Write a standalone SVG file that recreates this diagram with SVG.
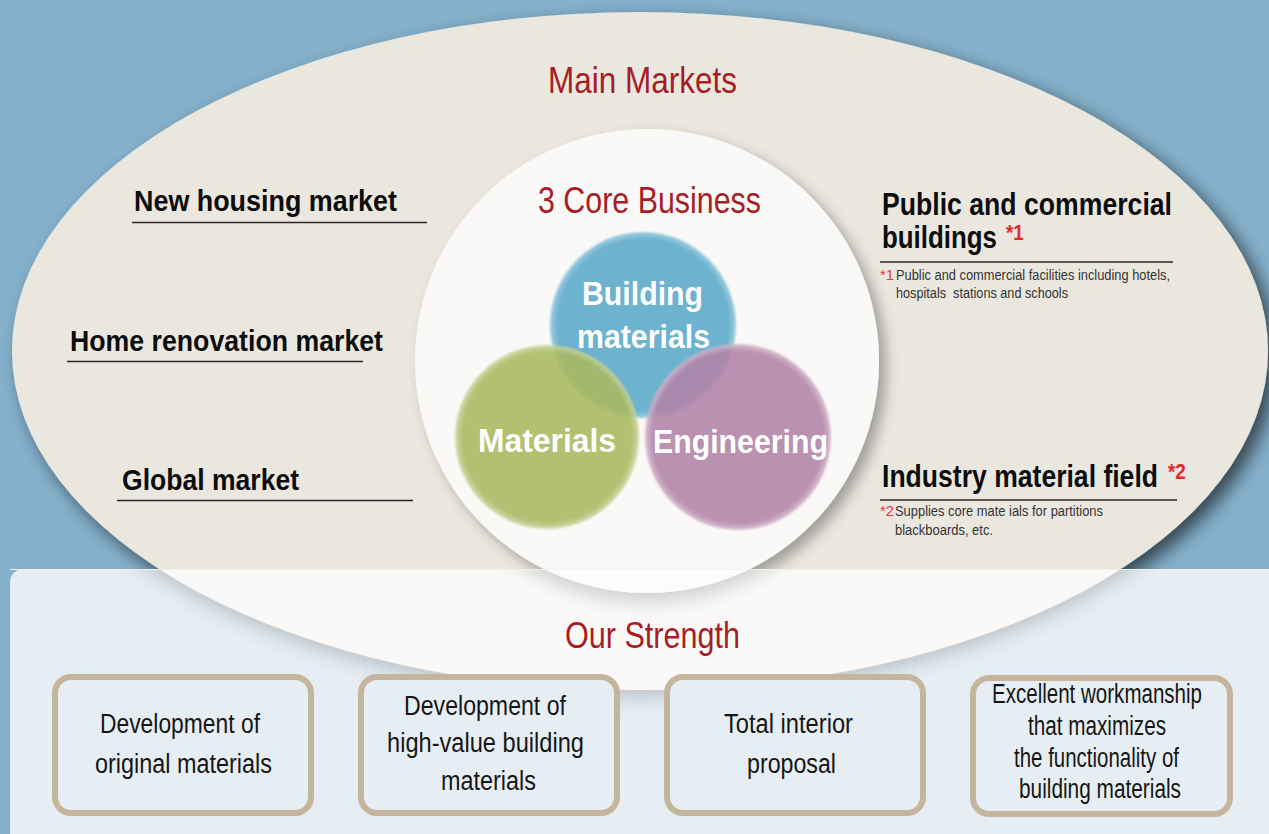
<svg xmlns="http://www.w3.org/2000/svg" width="1269" height="834" viewBox="0 0 1269 834">
  <defs>
    <style>
      .t { font-family: "Liberation Sans Narrow", "Liberation Sans", Arial, sans-serif; }
      .red { fill: #a81d25; font-size: 37px; }
      .lbl { fill: #0d0d0d; font-size: 30px; font-weight: bold; }
      .rl { fill: #0d0d0d; font-size: 31px; font-weight: bold; }
      .ast { fill: #e8262f; font-size: 22px; font-weight: bold; }
      .fn { fill: #333333; font-size: 15.5px; }
      .fnr { fill: #e8353d; font-size: 15.5px; }
      .ct { fill: #ffffff; font-size: 33px; font-weight: bold; }
      .bt { fill: #161616; font-size: 27px; }
      .ul { stroke: #2a2a2a; stroke-width: 1.6; }
      .box { fill: #e6eef4; stroke: #c4b59c; stroke-width: 6; }
    </style>
    <filter id="shE" x="-10%" y="-10%" width="125%" height="130%">
      <feGaussianBlur in="SourceAlpha" stdDeviation="9"/>
      <feOffset dx="8" dy="8" result="b"/>
      <feComponentTransfer><feFuncA type="linear" slope="0.6"/></feComponentTransfer>
      <feMerge><feMergeNode/><feMergeNode in="SourceGraphic"/></feMerge>
    </filter>
    <filter id="shC" x="-20%" y="-20%" width="145%" height="145%">
      <feGaussianBlur in="SourceAlpha" stdDeviation="7"/>
      <feOffset dx="7" dy="7" result="b"/>
      <feComponentTransfer><feFuncA type="linear" slope="0.32"/></feComponentTransfer>
      <feMerge><feMergeNode/><feMergeNode in="SourceGraphic"/></feMerge>
    </filter>
    <filter id="shP" x="-20%" y="-20%" width="140%" height="150%">
      <feGaussianBlur in="SourceAlpha" stdDeviation="10"/>
      <feOffset dx="0" dy="8" result="b"/>
      <feComponentTransfer><feFuncA type="linear" slope="0.18"/></feComponentTransfer>
      <feMerge><feMergeNode/><feMergeNode in="SourceGraphic"/></feMerge>
    </filter>
    <filter id="soft" x="-10%" y="-10%" width="120%" height="120%">
      <feGaussianBlur stdDeviation="1.2"/>
    </filter>
    <radialGradient id="gB" cx="0.5" cy="0.5" r="0.5">
      <stop offset="0" stop-color="#6db2cf"/>
      <stop offset="0.92" stop-color="#6db2cf"/>
      <stop offset="1" stop-color="#9fcde0"/>
    </radialGradient>
    <radialGradient id="gG" cx="0.5" cy="0.5" r="0.5">
      <stop offset="0" stop-color="#a9b960"/>
      <stop offset="0.92" stop-color="#a9b960"/>
      <stop offset="1" stop-color="#cdd6a0"/>
    </radialGradient>
    <radialGradient id="gP" cx="0.5" cy="0.5" r="0.5">
      <stop offset="0" stop-color="#b283a8"/>
      <stop offset="0.92" stop-color="#b283a8"/>
      <stop offset="1" stop-color="#d5b7cd"/>
    </radialGradient>
    <clipPath id="panelClip">
      <rect x="10" y="570" width="1300" height="300"/>
    </clipPath>
  </defs>

  <!-- background -->
  <rect x="0" y="0" width="1269" height="834" fill="#85b0cb"/>

  <!-- main markets ellipse -->
  <g id="main-markets">
    <ellipse cx="640" cy="351" rx="628" ry="339" fill="#eae7df" filter="url(#shE)"/>
    <text class="t red" x="548" y="93" textLength="189" lengthAdjust="spacingAndGlyphs">Main Markets</text>
  </g>

  <!-- core business circle -->
  <g id="core-business">
    <circle cx="647" cy="361" r="232" fill="#faf9f7" filter="url(#shC)"/>
    <text class="t red" x="538" y="213" textLength="223" lengthAdjust="spacingAndGlyphs">3 Core Business</text>
  </g>

  <!-- strength panel -->
  <g id="strength-panel">
    <rect x="10" y="569" width="1290" height="300" rx="13" fill="#e6eef4"/>
    <g clip-path="url(#panelClip)">
      <ellipse cx="640" cy="351" rx="628" ry="339" fill="#faf9f7" filter="url(#shP)"/>
      <circle cx="647" cy="361" r="232" fill="#fcfcfb" filter="url(#shP)"/>
    </g>
    <line x1="10" y1="569.5" x2="1269" y2="569.5" stroke="#f2f0ec" stroke-width="1"/>
    <text class="t red" x="565" y="648" textLength="175" lengthAdjust="spacingAndGlyphs">Our Strength</text>
  </g>

  <!-- venn circles -->
  <g id="building-materials">
    <circle cx="643" cy="325" r="93" fill="url(#gB)" filter="url(#soft)"/>
  </g>
  <g id="materials">
    <circle cx="547" cy="437" r="92" fill="url(#gG)" opacity="0.88" filter="url(#soft)"/>
  </g>
  <g id="engineering">
    <circle cx="738" cy="437" r="93" fill="url(#gP)" opacity="0.88" filter="url(#soft)"/>
  </g>
  <g id="venn-labels">
    <text class="t ct" x="582" y="305" textLength="121" lengthAdjust="spacingAndGlyphs">Building</text>
    <text class="t ct" x="577" y="348" textLength="133" lengthAdjust="spacingAndGlyphs">materials</text>
    <text class="t ct" x="478" y="452" textLength="138" lengthAdjust="spacingAndGlyphs">Materials</text>
    <text class="t ct" x="653" y="453" textLength="175" lengthAdjust="spacingAndGlyphs">Engineering</text>
  </g>

  <!-- left market labels -->
  <g id="new-housing">
    <text class="t lbl" x="134" y="211" textLength="263" lengthAdjust="spacingAndGlyphs">New housing market</text>
    <line class="ul" x1="132" y1="222.5" x2="427" y2="222.5"/>
  </g>
  <g id="home-renovation">
    <text class="t lbl" x="70" y="351" textLength="313" lengthAdjust="spacingAndGlyphs">Home renovation market</text>
    <line class="ul" x1="67" y1="361.5" x2="363" y2="361.5"/>
  </g>
  <g id="global-market">
    <text class="t lbl" x="122" y="490" textLength="177" lengthAdjust="spacingAndGlyphs">Global market</text>
    <line class="ul" x1="117" y1="500.5" x2="413" y2="500.5"/>
  </g>

  <!-- right market labels -->
  <g id="public-commercial">
    <text class="t rl" x="882" y="215" textLength="290" lengthAdjust="spacingAndGlyphs">Public and commercial</text>
    <text class="t rl" transform="translate(882,248) scale(0.834,1)" x="0" y="0">buildings</text>
    <text class="t ast" transform="translate(1006,240) scale(0.86,1)" x="0" y="0">*1</text>
    <line class="ul" x1="880" y1="262" x2="1173" y2="262"/>
    <text class="t fnr" x="880" y="280" textLength="14" lengthAdjust="spacingAndGlyphs">*1</text>
    <text class="t fn" x="896" y="280" textLength="274" lengthAdjust="spacingAndGlyphs">Public and commercial facilities including hotels,</text>
    <text class="t fn" x="896" y="298" textLength="172" lengthAdjust="spacingAndGlyphs">hospitals&#160; stations and schools</text>
  </g>
  <g id="industry-material">
    <text class="t rl" transform="translate(882,487) scale(0.857,1)" x="0" y="0">Industry material field</text>
    <text class="t ast" transform="translate(1168,479) scale(0.86,1)" x="0" y="0">*2</text>
    <line class="ul" x1="880" y1="500" x2="1177" y2="500"/>
    <text class="t fnr" x="880" y="516" textLength="14" lengthAdjust="spacingAndGlyphs">*2</text>
    <text class="t fn" x="895" y="516" textLength="208" lengthAdjust="spacingAndGlyphs">Supplies core mate ials for partitions</text>
    <text class="t fn" x="895" y="535" textLength="98" lengthAdjust="spacingAndGlyphs">blackboards, etc.</text>
  </g>

  <!-- strength boxes -->
  <g id="box-original">
    <rect class="box" x="55" y="677" width="256" height="136" rx="16"/>
    <text class="t bt" x="100" y="733" textLength="160" lengthAdjust="spacingAndGlyphs">Development of</text>
    <text class="t bt" x="95" y="773" textLength="177" lengthAdjust="spacingAndGlyphs">original materials</text>
  </g>
  <g id="box-high-value">
    <rect class="box" x="361" y="677" width="256" height="136" rx="16"/>
    <text class="t bt" x="404" y="715" textLength="162" lengthAdjust="spacingAndGlyphs">Development of</text>
    <text class="t bt" x="387" y="752" textLength="197" lengthAdjust="spacingAndGlyphs">high-value building</text>
    <text class="t bt" x="441" y="790" textLength="95" lengthAdjust="spacingAndGlyphs">materials</text>
  </g>
  <g id="box-interior">
    <rect class="box" x="667" y="677" width="256" height="136" rx="16"/>
    <text class="t bt" x="724" y="733" textLength="129" lengthAdjust="spacingAndGlyphs">Total interior</text>
    <text class="t bt" x="747" y="773" textLength="89" lengthAdjust="spacingAndGlyphs">proposal</text>
  </g>
  <g id="box-workmanship">
    <rect class="box" x="973" y="678" width="257" height="136" rx="16"/>
    <text class="t bt" x="992" y="703" textLength="210" lengthAdjust="spacingAndGlyphs">Excellent workmanship</text>
    <text class="t bt" x="1028" y="735" textLength="138" lengthAdjust="spacingAndGlyphs">that maximizes</text>
    <text class="t bt" x="1014" y="767" textLength="165" lengthAdjust="spacingAndGlyphs">the functionality of</text>
    <text class="t bt" x="1019" y="798" textLength="162" lengthAdjust="spacingAndGlyphs">building materials</text>
  </g>
</svg>
